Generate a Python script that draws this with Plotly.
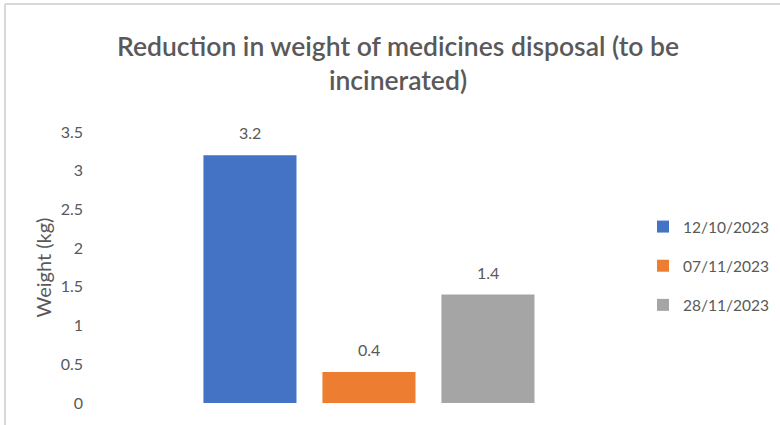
import plotly.graph_objects as go

# Data
dates = ["12/10/2023", "07/11/2023", "28/11/2023"]
weights_kg = [3.2, 0.4, 1.4]
colors = ["#4472C4", "#ED7D31", "#A5A5A5"]
y_ticks = [0, 0.5, 1, 1.5, 2, 2.5, 3, 3.5]

W, H = 780, 425
ML, MR, MT, MB = 88, 129, 131.5, 22.3
PW, PH = W - ML - MR, H - MT - MB

TXT = "#595959"
FONT = "Lato"

fig = go.Figure()
for i, (d, v, c) in enumerate(zip(dates, weights_kg, colors)):
    fig.add_trace(go.Bar(
        x=[d], y=[v], name=d, marker=dict(color=c, line=dict(width=0)),
        legendgroup=d, hoverinfo="name+y",
    ))
    # value label above each bar
    fig.add_annotation(
        x=d, y=v, text=f"{v:g}", showarrow=False, yshift=22.5,
        yanchor="middle", font=dict(family=FONT, size=16, color=TXT),
    )

# helpers to convert pixel positions into paper coordinates
def px_x(p):
    return (p - ML) / PW

def px_y(p):
    return (H - MB - p) / PH

border = dict(color="#D9D9D9", width=2)
fig.add_shape(type="line", xref="paper", yref="paper",
              x0=px_x(5), x1=px_x(W), y0=px_y(3.5), y1=px_y(3.5), line=border)
fig.add_shape(type="line", xref="paper", yref="paper",
              x0=px_x(5), x1=px_x(5), y0=px_y(3.5), y1=px_y(H), line=border)

fig.update_layout(
    width=W, height=H,
    margin=dict(l=ML, r=MR, t=MT, b=MB, pad=0, autoexpand=False),
    paper_bgcolor="white", plot_bgcolor="white",
    barmode="overlay", bargap=0.218,
    title=dict(
        text="Reduction in weight of medicines disposal (to be<br>incinerated)",
        x=398 / W, xanchor="center", xref="container",
        y=1 - 56 / H, yanchor="middle", yref="container",
        font=dict(family=FONT, size=26.5, color=TXT, weight=600),
    ),
    xaxis=dict(
        type="category", range=[-1.361, 3.370], showticklabels=False,
        showgrid=False, zeroline=False, showline=False, ticks="",
    ),
    yaxis=dict(
        range=[0, 3.5], tickvals=y_ticks, ticktext=[f"{t:g}" for t in y_ticks],
        showgrid=False, zeroline=False, showline=False, ticks="",
        tickfont=dict(family=FONT, size=16, color=TXT),
        ticklabelstandoff=4,
        title=dict(text="Weight (kg)", standoff=3,
                   font=dict(family=FONT, size=20, color=TXT)),
        automargin=False,
    ),
    legend=dict(
        x=643 / W, xanchor="left", xref="container",
        y=1 - 210 / H, yanchor="top", yref="container",
        font=dict(family=FONT, size=15.5, color=TXT),
        tracegroupgap=16, bgcolor="rgba(0,0,0,0)",
    ),
    showlegend=True,
)

fig.write_html("out.html")
